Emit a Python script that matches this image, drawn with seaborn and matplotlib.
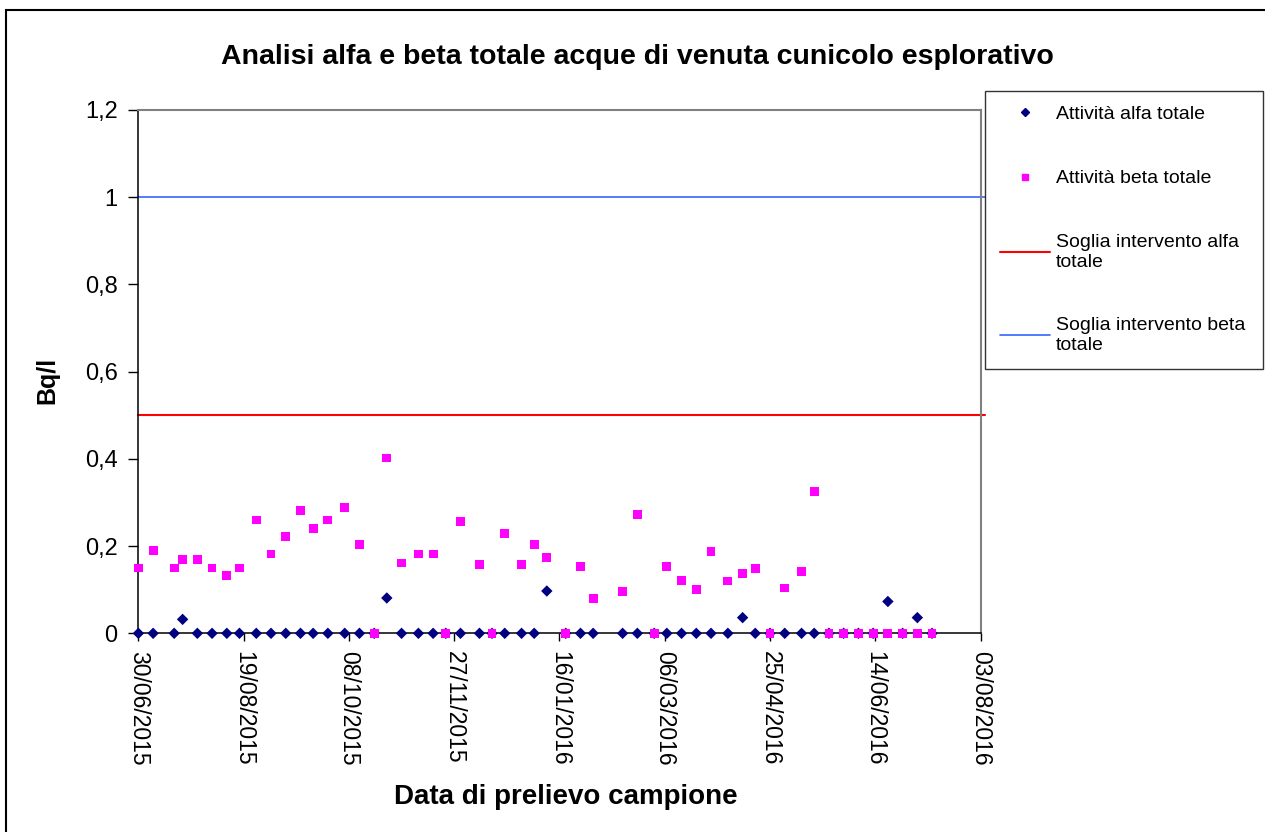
import pandas as pd
import matplotlib
matplotlib.use("Agg")
import matplotlib.pyplot as plt
import matplotlib.dates as mdates
from matplotlib.lines import Line2D
from matplotlib.patches import Rectangle
import seaborn as sns

sample_dates = [
    "30/06/2015", "07/07/2015", "17/07/2015", "21/07/2015", "28/07/2015",
    "04/08/2015", "11/08/2015", "17/08/2015", "25/08/2015", "01/09/2015",
    "08/09/2015", "15/09/2015", "21/09/2015", "28/09/2015", "06/10/2015",
    "13/10/2015", "20/10/2015", "26/10/2015", "02/11/2015", "10/11/2015",
    "17/11/2015", "23/11/2015", "30/11/2015", "09/12/2015", "15/12/2015",
    "21/12/2015", "29/12/2015", "04/01/2016", "10/01/2016", "19/01/2016",
    "26/01/2016", "01/02/2016", "15/02/2016", "22/02/2016", "01/03/2016",
    "07/03/2016", "14/03/2016", "21/03/2016", "28/03/2016", "05/04/2016",
    "12/04/2016", "18/04/2016", "25/04/2016", "02/05/2016", "10/05/2016",
    "16/05/2016", "23/05/2016", "30/05/2016", "06/06/2016", "13/06/2016",
    "20/06/2016", "27/06/2016", "04/07/2016", "11/07/2016",
]
alfa_totale = [
    0, 0, 0, 0.032, 0, 0, 0, 0, 0, 0,
    0, 0, 0, 0, 0, 0, 0, 0.081, 0, 0,
    0, 0, 0, 0, 0, 0, 0, 0, 0.097, 0,
    0, 0, 0, 0, 0, 0, 0, 0, 0, 0,
    0.036, 0, 0, 0, 0, 0, 0, 0, 0, 0,
    0.073, 0, 0.036, 0,
]
beta_totale = [
    0.15, 0.19, 0.15, 0.17, 0.17, 0.15, 0.133, 0.15, 0.26, 0.182,
    0.222, 0.281, 0.24, 0.26, 0.289, 0.203, 0, 0.402, 0.161, 0.182,
    0.182, 0, 0.256, 0.158, 0, 0.228, 0.158, 0.203, 0.174, 0,
    0.154, 0.08, 0.096, 0.273, 0, 0.154, 0.121, 0.10, 0.187, 0.12,
    0.137, 0.149, 0, 0.104, 0.141, 0.326, 0, 0, 0, 0,
    0, 0, 0, 0,
]
soglia_alfa = 0.5
soglia_beta = 1.0

y_ticks = [0, 0.2, 0.4, 0.6, 0.8, 1.0, 1.2]
y_tick_labels = ["0", "0,2", "0,4", "0,6", "0,8", "1", "1,2"]
x_start, x_end = "2015-06-30", "2016-08-03"

df = pd.DataFrame({
    "data": pd.to_datetime(sample_dates, format="%d/%m/%Y"),
    "alfa": alfa_totale,
    "beta": beta_totale,
})

sns.set_style("white")
plt.rcParams["font.family"] = ["Liberation Sans", "DejaVu Sans"]
plt.rcParams["text.color"] = "black"
plt.rcParams["axes.labelcolor"] = "black"
plt.rcParams["xtick.color"] = "black"
plt.rcParams["ytick.color"] = "black"

fig = plt.figure(figsize=(12.65, 8.32), dpi=100)
ax = fig.add_axes([0.1094, 0.2388, 0.6657, 0.629])

# threshold lines
ax.axhline(soglia_alfa, color="#FF0000", lw=1.5, xmax=1.005, clip_on=False, zorder=2)
ax.axhline(soglia_beta, color="#3366FF", lw=1.2, xmax=1.005, clip_on=False, zorder=2)

# measurements (beta drawn on top, as in the original)
sns.scatterplot(data=df, x="data", y="alfa", marker="D", color="#000080",
                s=34, edgecolor="none", ax=ax, zorder=3, clip_on=False)
sns.scatterplot(data=df, x="data", y="beta", marker="s", color="#FF00FF",
                s=40, edgecolor="none", ax=ax, zorder=4, clip_on=False)

ax.set_xlim(pd.Timestamp(x_start), pd.Timestamp(x_end))
ax.set_ylim(0, 1.2)
ax.set_xticks(pd.date_range(x_start, x_end, freq="50D"))
ax.xaxis.set_major_formatter(mdates.DateFormatter("%d/%m/%Y"))
ax.set_yticks(y_ticks)
ax.set_yticklabels(y_tick_labels)
ax.tick_params(axis="x", bottom=True, direction="out", length=6, width=1,
               pad=7, labelsize=16.5, labelrotation=-90)
ax.tick_params(axis="y", left=True, direction="out", length=7, width=1,
               pad=8, labelsize=17)
for lab in ax.get_xticklabels():
    lab.set_ha("center")

for side in ["left", "bottom"]:
    ax.spines[side].set_color("black")
    ax.spines[side].set_linewidth(1.1)
for side in ["top", "right"]:
    ax.spines[side].set_color("#808080")
    ax.spines[side].set_linewidth(1.5)

ax.set_xlabel("Data di prelievo campione", fontsize=20, fontweight="bold")
ax.set_ylabel("Bq/l", fontsize=18, fontweight="bold")
ax.xaxis.label.set_va("center")
ax.yaxis.label.set_va("center")
ax.xaxis.set_label_coords(0.508, -0.313)
ax.yaxis.set_label_coords(-0.1086, 0.483)

fig.text(0.504, 0.931, "Analisi alfa e beta totale acque di venuta cunicolo esplorativo",
         ha="center", va="center", fontsize=20.5, fontweight="bold")

handles = [
    Line2D([], [], marker="D", color="#000080", linestyle="none", markersize=4),
    Line2D([], [], marker="s", color="#FF00FF", linestyle="none", markersize=4.5),
    Line2D([], [], color="#FF0000", lw=1.5),
    Line2D([], [], color="#3366FF", lw=1.2),
]
labels = [
    "Attività alfa totale",
    "Attività beta totale",
    "Soglia intervento alfa\ntotale",
    "Soglia intervento beta\ntotale",
]
leg = fig.legend(handles, labels, loc="upper left",
                 bbox_to_anchor=(985 / 1265, 1 - 91 / 832 - 0.01, 278 / 1265, 0.01),
                 mode="expand", bbox_transform=fig.transFigure,
                 fontsize=14, frameon=True, fancybox=False, borderaxespad=0,
                 borderpad=0.75, handlelength=2.6, handletextpad=0.3,
                 labelspacing=2.4)
leg.get_frame().set_edgecolor("black")
leg.get_frame().set_linewidth(1.0)

# outer chart border
fig.patches.append(Rectangle((6 / 1265, -0.1), 1.1, 1.1 - 10 / 832, fill=False,
                             lw=1.5, edgecolor="black", transform=fig.transFigure))

fig.savefig("out.png", dpi=100)
